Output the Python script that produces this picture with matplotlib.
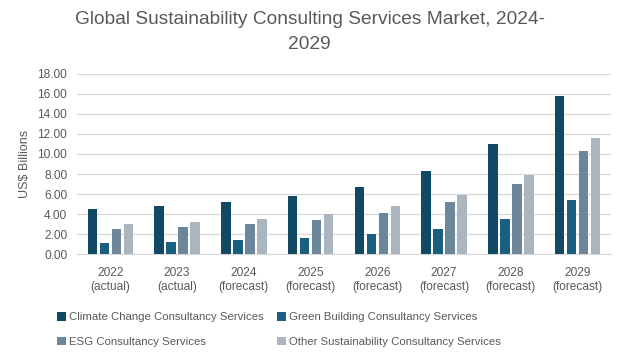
import numpy as np
import matplotlib.pyplot as plt

years = ['2022\n(actual)', '2023\n(actual)', '2024\n(forecast)', '2025\n(forecast)',
         '2026\n(forecast)', '2027\n(forecast)', '2028\n(forecast)', '2029\n(forecast)']
climate = [4.52, 4.82, 5.18, 5.81, 6.74, 8.30, 10.97, 15.80]
green = [1.10, 1.20, 1.40, 1.60, 1.99, 2.55, 3.55, 5.38]
esg = [2.52, 2.75, 3.02, 3.45, 4.12, 5.18, 7.01, 10.33]
other = [3.02, 3.22, 3.52, 4.02, 4.78, 5.91, 7.90, 11.56]
names = ['Climate Change Consultancy Services', 'Green Building Consultancy Services',
         'ESG Consultancy Services', 'Other Sustainability Consultancy Services']
colors = ['#114864', '#1a5f80', '#6c879c', '#abb5c0']

plt.rcParams['font.family'] = ['Liberation Sans', 'DejaVu Sans']
text_color = '#595959'

fig = plt.figure(figsize=(6.24, 3.57), dpi=100)
ax = fig.add_axes([0.1234, 0.2877, 0.8556, 0.5059])

x = np.arange(len(years))
width = 0.142
step = 0.18
series = [climate, green, esg, other]
bars = []
for i, (vals, name, c) in enumerate(zip(series, names, colors)):
    bars.append(ax.bar(x + (i - 1.5) * step, vals, width, color=c, label=name, zorder=3))

ax.set_xlim(-0.5, len(years) - 0.5)
ax.set_ylim(0, 18)
ax.set_yticks(np.arange(0, 18.1, 2))
ax.set_yticklabels([f'{v:.2f}' for v in np.arange(0, 18.1, 2)])
ax.set_xticks(x)
ax.set_xticklabels(years, linespacing=1.25)
ax.grid(axis='y', color='#d9d9d9', linewidth=0.9, zorder=0)
for s in ['top', 'right', 'left']:
    ax.spines[s].set_visible(False)
ax.spines['bottom'].set_color('#d9d9d9')
ax.tick_params(length=0, labelsize=8.6, colors=text_color)
ax.tick_params(axis='y', pad=7)
ax.tick_params(axis='x', pad=9)
ax.set_ylabel('US$ Billions', fontsize=9, color=text_color, labelpad=5)

fig.text(0.496, 0.968, 'Global Sustainability Consulting Services Market, 2024-\n2029',
         ha='center', va='top', fontsize=13.8, color=text_color, linespacing=1.55)

# row-wise legend order: matplotlib fills columns first
order = [0, 2, 1, 3]
leg = fig.legend([bars[i] for i in order], [names[i] for i in order],
                 loc='lower left', bbox_to_anchor=(0.075, 0.0), ncol=2, frameon=False,
                 fontsize=8.2, handlelength=0.75, handleheight=0.75, handletextpad=0.3,
                 columnspacing=1.2, labelspacing=1.25)
for t in leg.get_texts():
    t.set_color(text_color)

fig.savefig('out.png', dpi=100)
